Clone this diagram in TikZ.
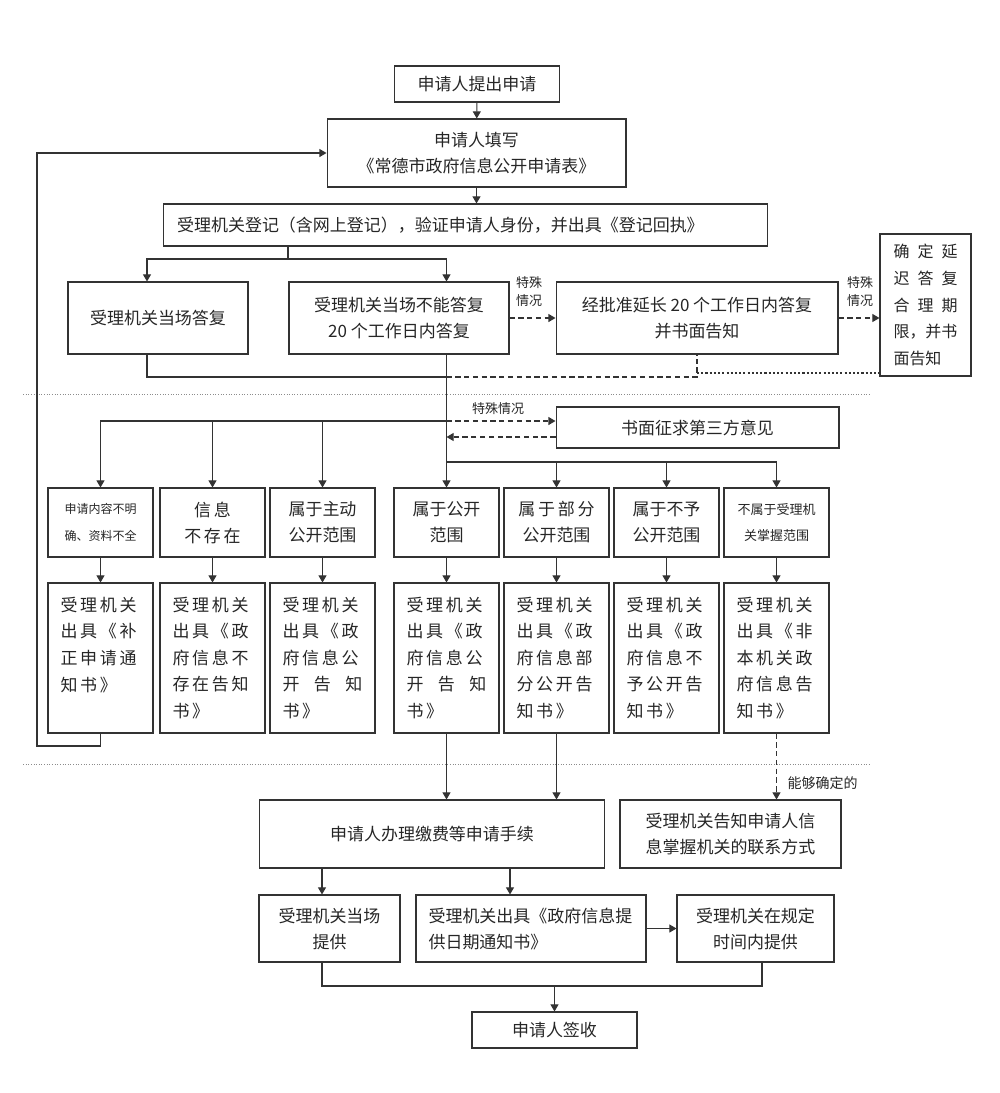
\documentclass[tikz,border=0pt]{standalone}
\usepackage{fontspec}
\usetikzlibrary{arrows.meta}
\newfontfamily\cjk{Noto Sans CJK SC}
\newfontfamily\cjkwide[LetterSpace=16]{Noto Sans CJK SC}
\newcommand{\mainsize}{\fontsize{9.67pt}{14.8pt}\selectfont}
\newcommand{\tallsize}{\fontsize{9.67pt}{15.1pt}\selectfont}
\newcommand{\delaysize}{\fontsize{9.1pt}{15.2pt}\selectfont}
\newcommand{\notesize}{\fontsize{7.4pt}{10.2pt}\selectfont}
\newcommand{\tinysize}{\fontsize{6.83pt}{15pt}\selectfont}
\begin{document}
\begin{tikzpicture}[x=0.02cm, y=-0.02cm, line width=0.6pt,
    >={Triangle[length=4pt,width=4.5pt]},
    box/.style={draw=black!80, text=black!85, inner sep=0pt, align=center, font=\cjk\mainsize},
    catbox/.style={box, minimum width=2.1cm, minimum height=1.38cm},
    tallbox/.style={box, minimum width=2.1cm, minimum height=3cm, text width=1.6cm, align=left, font=\cjkwide\tallsize},
    note/.style={text=black!85, inner sep=0pt, align=center, font=\cjk\notesize},
    arr/.style={->, draw=black!80},
    dasharr/.style={arr, dash pattern=on 3pt off 2pt},
    sepline/.style={draw=black!45, densely dotted, line width=0.5pt}]
  \useasboundingbox (0,0) rectangle (1000,1093);

  % first part: application and reply
  \node[box, minimum width=3.3cm, minimum height=0.72cm] (reqsubmit) at (477,84) {申请人提出申请};
  \node[box, minimum width=5.98cm, minimum height=1.36cm] (fillform) at (476.5,153) {申请人填写\\《常德市政府信息公开申请表》};
  \node[box, minimum width=12.1cm, minimum height=0.84cm, text width=11.54cm, align=left] (register) at (465.5,225) {受理机关登记（含网上登记），验证申请人身份，并出具《登记回执》};
  \node[box, minimum width=3.6cm, minimum height=1.44cm] (replynow) at (158,318) {受理机关当场答复};
  \node[box, minimum width=4.4cm, minimum height=1.44cm] (replylater) at (399,318) {受理机关当场不能答复\\20 个工作日内答复};
  \node[box, minimum width=5.64cm, minimum height=1.44cm] (extend) at (697,318) {经批准延长 20 个工作日内答复\\并书面告知};
  \node[box, minimum width=1.82cm, minimum height=2.84cm, text width=1.28cm, align=left, font=\cjk\delaysize] (delay) at (925.5,305)
    {确\hfill 定\hfill 延\\迟\hfill 答\hfill 复\\合\hfill 理\hfill 期\\限，并书\\面告知};
  \node[note] (special1) at (529,292) {特殊\\情况};
  \node[note] (special2) at (860,292) {特殊\\情况};

  % second part: kinds of information
  \node[box, minimum width=5.66cm, minimum height=0.82cm] (thirdparty) at (697.5,427.5) {书面征求第三方意见};
  \node[note] (special3) at (498,409) {特殊情况};
  \node[catbox, font=\cjk\tinysize] (c1) at (100.5,522.5) {申请内容不明\\确、资料不全};
  \node[catbox, font=\cjkwide\mainsize] (c2) at (212.5,522.5) {信息\\不存在};
  \node[catbox] (c3) at (322.5,522.5) {属于主动\\公开范围};
  \node[catbox] (c4) at (446.5,522.5) {属于公开\\范围};
  \node[catbox] (c5) at (556.5,522.5) {{\cjkwide 属于部分}\\公开范围};
  \node[catbox] (c6) at (666.5,522.5) {属于不予\\公开范围};
  \node[catbox, font=\cjk\fontsize{7.4pt}{15pt}\selectfont] (c7) at (776.5,522.5) {不属于受理机\\关掌握范围};

  \node[tallbox] (d1) at (100.5,658) {受理机关\\出具《补\\正申请通\\知书》\\\phantom{知}};
  \node[tallbox] (d2) at (212.5,658) {受理机关\\出具《政\\府信息不\\存在告知\\书》};
  \node[tallbox] (d3) at (322.5,658) {受理机关\\出具《政\\府信息公\\开\hfill 告\hfill 知\\书》};
  \node[tallbox] (d4) at (446.5,658) {受理机关\\出具《政\\府信息公\\开\hfill 告\hfill 知\\书》};
  \node[tallbox] (d5) at (556.5,658) {受理机关\\出具《政\\府信息部\\分公开告\\知书》};
  \node[tallbox] (d6) at (666.5,658) {受理机关\\出具《政\\府信息不\\予公开告\\知书》};
  \node[tallbox] (d7) at (776.5,658) {受理机关\\出具《非\\本机关政\\府信息告\\知书》};

  % third part: providing
  \node[box, minimum width=6.92cm, minimum height=1.36cm] (fees) at (432,834) {申请人办理缴费等申请手续};
  \node[box, minimum width=4.42cm, minimum height=1.36cm] (contact) at (730.5,834) {受理机关告知申请人信\\息掌握机关的联系方式};
  \node[note, anchor=west, font=\cjk\fontsize{7.97pt}{10pt}\selectfont] (known) at (787,783) {能够确定的};
  \node[box, minimum width=2.82cm, minimum height=1.34cm] (provnow) at (329.5,928.5) {受理机关当场\\提供};
  \node[box, minimum width=4.6cm, minimum height=1.34cm, text width=4.1cm, align=left] (provdate) at (531,928.5) {受理机关出具《政府信息提\\供日期通知书》};
  \node[box, minimum width=3.14cm, minimum height=1.34cm] (provlater) at (755.5,928.5) {受理机关在规定\\时间内提供};
  \node[box, minimum width=3.3cm, minimum height=0.72cm] (signoff) at (554.5,1030) {申请人签收};

  % separators
  \draw[sepline] (23,394) -- (870,394);
  \draw[sepline] (23,764) -- (870,764);

  % connectors, first part
  \draw[arr] (reqsubmit) -- (fillform);
  \draw[arr] (fillform) -- (fillform |- register.north);
  \coordinate (regsplit) at (288,259);
  \draw[draw=black!80] (register.south -| regsplit) -- (regsplit);
  \draw[arr] (regsplit) -| ([xshift=-0.22cm]replynow.north);
  \draw[arr] (regsplit) -| (replylater.north -| c4);
  \draw[dasharr] (replylater) -- (extend);
  \draw[dasharr] (extend) -- (extend -| delay.west);
  \coordinate (join1) at (446.5,377);
  \coordinate (join2) at (697,373);
  \draw[draw=black!80] ([xshift=-0.22cm]replynow.south) |- (join1);
  \draw[draw=black!80, dash pattern=on 3pt off 2pt] (join1) -| (extend.south);
  \draw[draw=black!80, dash pattern=on 1.2pt off 1.2pt] (join2) -- (join2 -| delay.west);
  \draw[arr] (replylater.south -| c4) -- (c4.north);

  % connectors, second part
  \coordinate (tpin) at ([yshift=0.13cm]thirdparty.west);
  \coordinate (tpout) at ([yshift=-0.19cm]thirdparty.west);
  \draw[dasharr] (tpin -| c4) -- (tpin);
  \draw[dasharr] (tpout) -- (tpout -| c4);
  \foreach \c in {c1,c2,c3}
    \draw[arr] (tpin -| c4) -| (\c.north);
  \coordinate (rsplit) at (446.5,462);
  \foreach \c in {c5,c6,c7}
    \draw[arr] (rsplit) -| (\c.north);
  \foreach \i in {1,...,7}
    \draw[arr] (c\i) -- (d\i);
  \coordinate (back) at (37,746);
  \draw[arr] (d1.south) |- (back) |- (fillform.west);

  % connectors, third part
  \draw[arr] (d4) -- (d4 |- fees.north);
  \draw[arr] (d5) -- (d5 |- fees.north);
  \draw[dasharr] (d7) -- (d7 |- contact.north);
  \coordinate (p1) at (322,0);
  \coordinate (p2) at (510,0);
  \coordinate (p3) at (762,0);
  \coordinate (merge) at (554.5,986);
  \draw[arr] (fees.south -| p1) -- (provnow.north -| p1);
  \draw[arr] (fees.south -| p2) -- (provdate.north -| p2);
  \draw[arr] (provdate) -- (provlater);
  \draw[draw=black!80] (provnow.south -| p1) |- (merge) -| (provlater.south -| p3);
  \draw[arr] (merge) -- (signoff);
\end{tikzpicture}
\end{document}
